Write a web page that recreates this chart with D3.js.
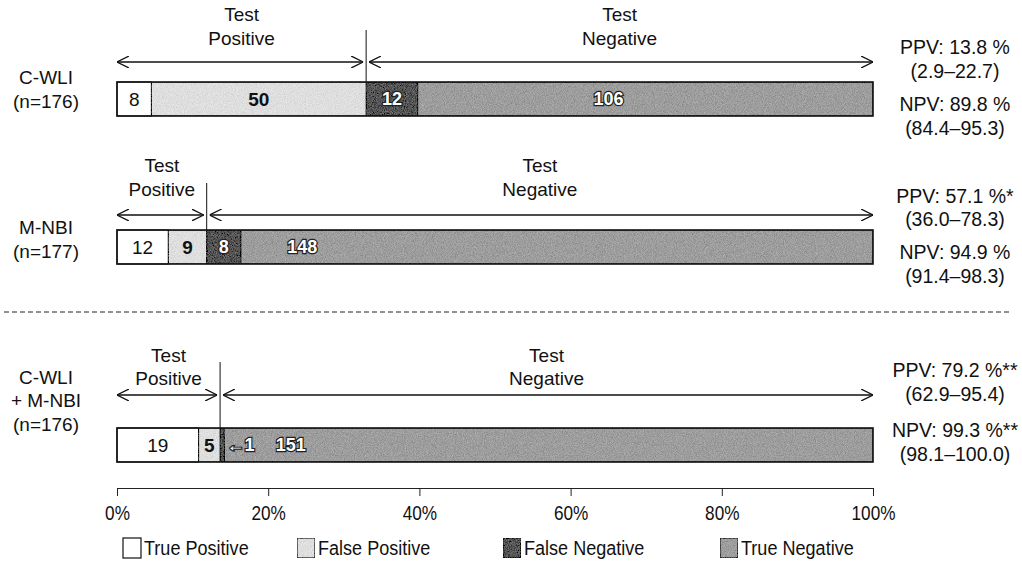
<!DOCTYPE html>
<html>
<head>
<meta charset="utf-8">
<script src="https://cdn.jsdelivr.net/npm/d3@7"></script>
<style>
  body { margin: 0; background: #fff; }
  svg { display: block; font-family: "Liberation Sans", Arial, sans-serif; }
</style>
</head>
<body>
<div id="chart"></div>
<script>
// data
var methodLines = [['C-WLI', '(n=176)'], ['M-NBI', '(n=177)'], ['C-WLI', '+ M-NBI', '(n=176)']];
var truePositive = [8, 12, 19];
var falsePositive = [50, 9, 5];
var falseNegative = [12, 8, 1];
var trueNegative = [106, 148, 151];
var ppvText = ['PPV: 13.8 %', 'PPV: 57.1 %*', 'PPV: 79.2 %**'];
var ppvCI = ['(2.9–22.7)', '(36.0–78.3)', '(62.9–95.4)'];
var npvText = ['NPV: 89.8 %', 'NPV: 94.9 %', 'NPV: 99.3 %**'];
var npvCI = ['(84.4–95.3)', '(91.4–98.3)', '(98.1–100.0)'];
var categories = ['True Positive', 'False Positive', 'False Negative', 'True Negative'];
var tickValues = [0, 0.2, 0.4, 0.6, 0.8, 1];

// layout
var width = 1022, height = 584;
var rowTop = [82, 230, 428];
var barH = 34;
var headY = [[14, 38, 62, 30], [165, 189, 215, 183], [355, 378, 395, 362]];
var leftY = [[77, 101], [227, 251], [377, 400, 424]];
var rightY = [[47, 71, 104, 128], [196, 219, 252, 276], [370, 394, 430, 454]];
var tnLabelAt = [0.65, 0.245, 0.23];
var fills = ['#ffffff', '#dedede', '#545454', '#9d9d9d'];
var narrow = 'scale(0.86,1)';

var x = d3.scaleLinear().domain([0, 1]).range([117, 873]);

var svg = d3.select('#chart').append('svg')
    .attr('width', width)
    .attr('height', height);

var defs = svg.append('defs');
var filt = defs.append('filter').attr('id', 'speckle')
    .attr('x', 0).attr('y', 0).attr('width', 1).attr('height', 1);
filt.append('feTurbulence').attr('type', 'fractalNoise')
    .attr('baseFrequency', 1.1).attr('numOctaves', 2).attr('seed', 3).attr('result', 'noise');
filt.append('feColorMatrix').attr('in', 'noise').attr('type', 'matrix')
    .attr('values', '1 0 0 0 0  1 0 0 0 0  1 0 0 0 0  0 0 0 0 1').attr('result', 'gray');
filt.append('feComposite').attr('in', 'SourceGraphic').attr('in2', 'gray')
    .attr('operator', 'arithmetic').attr('k1', 0).attr('k2', 1).attr('k3', 0.32).attr('k4', -0.16)
    .attr('result', 'mix');
filt.append('feComposite').attr('in', 'mix').attr('in2', 'SourceGraphic').attr('operator', 'in');

defs.append('marker').attr('id', 'arrow')
    .attr('viewBox', '0 -6 12 12').attr('refX', 12).attr('refY', 0)
    .attr('markerWidth', 12).attr('markerHeight', 12).attr('markerUnits', 'userSpaceOnUse')
    .attr('orient', 'auto-start-reverse')
  .append('path').attr('d', 'M0,-6L12,0L0,6')
    .attr('fill', 'none').attr('stroke', '#111').attr('stroke-width', 1.3);

function centerText(g, tx, ty, str, size) {
    return g.append('text')
        .attr('x', tx).attr('y', ty).attr('dy', '0.35em')
        .attr('text-anchor', 'middle')
        .style('font-size', size + 'px')
        .attr('fill', '#111')
        .text(str);
}

function outlined(g, tx, ty, str, anchor) {
    return g.append('text')
        .attr('x', tx).attr('y', ty).attr('dy', '0.35em')
        .attr('text-anchor', anchor || 'middle')
        .style('font-size', '18px').style('font-weight', 'bold')
        .attr('fill', '#fff').attr('stroke', '#222').attr('stroke-width', 2.4)
        .attr('paint-order', 'stroke')
        .text(str);
}

methodLines.forEach(function (lines, i) {
    var n = truePositive[i] + falsePositive[i] + falseNegative[i] + trueNegative[i];
    var counts = [truePositive[i], falsePositive[i], falseNegative[i], trueNegative[i]];
    var stack = [];
    var acc = 0;
    counts.forEach(function (c, k) {
        stack.push({ k: k, v: c, s: acc / n, e: (acc + c) / n });
        acc += c;
    });
    var g = svg.append('g');
    var top = rowTop[i], mid = top + barH / 2;
    var split = x(stack[1].e);

    // bar segments
    g.selectAll('rect.seg').data(stack).enter().append('rect')
        .attr('class', 'seg')
        .attr('x', function (d) { return x(d.s); })
        .attr('y', top)
        .attr('width', function (d) { return x(d.e) - x(d.s); })
        .attr('height', barH)
        .attr('fill', function (d) { return fills[d.k]; })
        .attr('filter', function (d) { return d.k == 0 ? null : 'url(#speckle)'; })
        .attr('stroke', '#111')
        .attr('stroke-width', 1);
    g.append('rect')
        .attr('x', x(0)).attr('y', top)
        .attr('width', x(1) - x(0)).attr('height', barH)
        .attr('fill', 'none').attr('stroke', '#111').attr('stroke-width', 1.6);

    // segment labels
    centerText(g, (x(stack[0].s) + x(stack[0].e)) / 2, mid, stack[0].v, 19);
    centerText(g, (x(stack[1].s) + x(stack[1].e)) / 2, mid, stack[1].v, 19)
        .style('font-weight', 'bold');
    if (stack[2].v > 1) {
        outlined(g, (x(stack[2].s) + x(stack[2].e)) / 2, mid, stack[2].v);
    } else {
        outlined(g, x(stack[2].e) + 2, mid, '\u2190' + stack[2].v, 'start');
    }
    outlined(g, x(tnLabelAt[i]), mid, stack[3].v);

    // test positive / negative headers
    var hy = headY[i];
    centerText(g, (x(0) + split) / 2, hy[0], 'Test', 19);
    centerText(g, (x(0) + split) / 2, hy[1], 'Positive', 19);
    centerText(g, (split + x(1)) / 2, hy[0], 'Test', 19);
    centerText(g, (split + x(1)) / 2, hy[1], 'Negative', 19);
    g.append('line')
        .attr('x1', split).attr('x2', split)
        .attr('y1', hy[3]).attr('y2', top)
        .attr('stroke', '#111').attr('stroke-width', 1);
    g.append('line')
        .attr('x1', x(0)).attr('x2', split - 3)
        .attr('y1', hy[2]).attr('y2', hy[2])
        .attr('stroke', '#111').attr('stroke-width', 1.3)
        .attr('marker-start', 'url(#arrow)').attr('marker-end', 'url(#arrow)');
    g.append('line')
        .attr('x1', split + 3).attr('x2', x(1))
        .attr('y1', hy[2]).attr('y2', hy[2])
        .attr('stroke', '#111').attr('stroke-width', 1.3)
        .attr('marker-start', 'url(#arrow)').attr('marker-end', 'url(#arrow)');

    // left method labels
    lines.forEach(function (t, j) {
        centerText(g, 46, leftY[i][j], t, 19);
    });

    // right PPV / NPV
    var rt = [ppvText[i], ppvCI[i], npvText[i], npvCI[i]];
    rt.forEach(function (t, j) {
        centerText(g, 955, rightY[i][j], t, 19.5);
    });
});

// dashed separator
svg.append('line')
    .attr('x1', 4).attr('x2', 1012)
    .attr('y1', 312).attr('y2', 312)
    .attr('stroke', '#222').attr('stroke-width', 1)
    .attr('stroke-dasharray', '5,3');

// axis
var axis = d3.axisBottom(x)
    .tickValues(tickValues)
    .tickFormat(d3.format('.0%'))
    .tickSizeInner(8)
    .tickSizeOuter(0)
    .tickPadding(10);
var ax = svg.append('g')
    .attr('transform', 'translate(0,488)')
    .call(axis);
ax.select('.domain').attr('stroke', '#222');
ax.selectAll('.tick line').attr('stroke', '#222');
ax.selectAll('.tick text')
    .style('font-size', '20px')
    .attr('transform', narrow)
    .attr('fill', '#111');

// legend
var legX = [123, 297, 503, 720];
var leg = svg.append('g').selectAll('g').data(categories).enter().append('g')
    .attr('transform', function (d, i) { return 'translate(' + legX[i] + ',538)'; });
leg.append('rect')
    .attr('width', 18).attr('height', 20)
    .attr('fill', function (d, i) { return fills[i]; })
    .attr('filter', function (d, i) { return i == 0 ? null : 'url(#speckle)'; })
    .attr('stroke', '#111').attr('stroke-width', 1.2);
leg.append('text')
    .attr('transform', 'translate(21,10) ' + narrow)
    .attr('dy', '0.35em')
    .style('font-size', '21px')
    .attr('fill', '#111')
    .text(function (d) { return d; });
</script>
</body>
</html>
